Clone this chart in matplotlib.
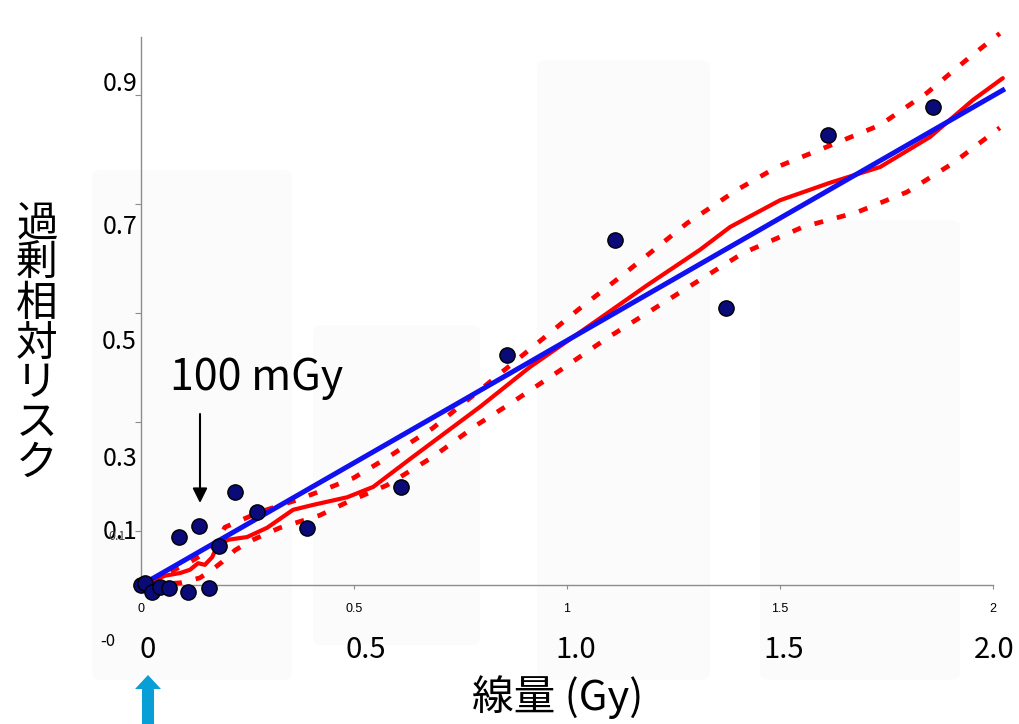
import matplotlib
matplotlib.use('Agg')
import matplotlib.pyplot as plt
from matplotlib.patches import Polygon, FancyBboxPatch

plt.rcParams['font.family'] = ['Noto Sans CJK JP', 'DejaVu Sans']

# observed points (dose in Gy, excess relative risk)
dose_pts = [0.0, 0.01, 0.026, 0.045, 0.066, 0.11, 0.16, 0.089, 0.136, 0.183,
            0.221, 0.272, 0.39, 0.61, 0.859, 1.113, 1.373, 1.613, 1.859]
err_pts = [0.0, 0.004, -0.013, -0.004, -0.006, -0.013, -0.006, 0.088, 0.108, 0.072,
           0.171, 0.134, 0.105, 0.180, 0.422, 0.633, 0.508, 0.826, 0.877]

# linear fit
lin_dose = [0.021, 2.023]
lin_err = [0.009, 0.908]

# smoothed fit
fit_dose = [0.021, 0.056, 0.092, 0.115, 0.134, 0.150, 0.167, 0.178, 0.204, 0.249,
            0.296, 0.357, 0.404, 0.484, 0.545, 0.638, 0.796, 0.913, 1.031, 1.188,
            1.312, 1.383, 1.500, 1.617, 1.735, 1.852, 1.953, 2.023]
fit_err = [0.006, 0.017, 0.022, 0.028, 0.040, 0.037, 0.051, 0.070, 0.083, 0.088,
           0.105, 0.138, 0.147, 0.161, 0.180, 0.235, 0.327, 0.400, 0.464, 0.550,
           0.615, 0.657, 0.706, 0.738, 0.767, 0.822, 0.890, 0.930]

# confidence band
upper_dose = [0.021, 0.068, 0.115, 0.150, 0.174, 0.197, 0.279, 0.366, 0.427, 0.498,
              0.577, 0.685, 0.796, 0.920, 1.026, 1.131, 1.282, 1.399, 1.493, 1.610,
              1.735, 1.845, 1.946, 2.016]
upper_err = [0.006, 0.024, 0.042, 0.059, 0.073, 0.106, 0.134, 0.156, 0.174, 0.196,
             0.233, 0.288, 0.358, 0.437, 0.505, 0.569, 0.664, 0.725, 0.767, 0.804,
             0.844, 0.903, 0.969, 1.012]
lower_dose = [0.021, 0.092, 0.138, 0.167, 0.190, 0.221, 0.263, 0.326, 0.420, 0.484,
              0.577, 0.685, 0.789, 0.873, 0.984, 1.094, 1.188, 1.300, 1.413, 1.554,
              1.681, 1.798, 1.906, 2.016]
lower_err = [0.0, 0.004, 0.013, 0.028, 0.042, 0.064, 0.083, 0.105, 0.128, 0.152,
             0.183, 0.235, 0.294, 0.336, 0.394, 0.453, 0.499, 0.554, 0.609, 0.657,
             0.684, 0.721, 0.774, 0.839]

x_ticks = [0, 0.5, 1, 1.5, 2]
x_tick_labels = ['0', '0.5', '1', '1.5', '2']
y_ticks = [0.1, 0.3, 0.5, 0.7, 0.9]
big_x_labels = ['0', '0.5', '1.0', '1.5', '2.0']
y_labels = ['0.9', '0.7', '0.5', '0.3', '0.1']

W, H = 1019, 724
fig = plt.figure(figsize=(W / 100, H / 100), dpi=100)


def fx(x):
    return x / W


def fy(y):
    return 1 - y / H


# faint slide boxes in the background
for x0, y0, x1, y1 in [(92, 170, 292, 680), (313, 325, 480, 645), (537, 60, 710, 680), (760, 220, 960, 680)]:
    fig.patches.append(FancyBboxPatch((fx(x0), fy(y1)), fx(x1 - x0), (y1 - y0) / H,
                                      boxstyle='round,pad=0,rounding_size=0.01',
                                      transform=fig.transFigure, facecolor='#fbfbfb',
                                      edgecolor='none', zorder=-5))

ax = fig.add_axes([141 / W, 0.11671, (993 - 141) / W, 0.83177])
ax.set_zorder(2)
ax.set_facecolor('none')
ax.set_xlim(0, 2)
ax.set_ylim(-0.1, 1.005)

ax.plot(upper_dose, upper_err, color='red', lw=3.4, dashes=(1.9, 3.0), clip_on=False, zorder=3)
ax.plot(lower_dose, lower_err, color='red', lw=3.4, dashes=(1.9, 3.0), clip_on=False, zorder=3)
ax.plot(fit_dose, fit_err, color='red', lw=3.0, solid_joinstyle='round',
        solid_capstyle='round', clip_on=False, zorder=4)
ax.plot(lin_dose, lin_err, color='#1010f0', lw=3.6, clip_on=False, zorder=5)
ax.plot(dose_pts, err_pts, 'o', color='#0a0a78', markeredgecolor='black',
        markeredgewidth=1.0, markersize=11, clip_on=False, zorder=6)

for s in ['top', 'right']:
    ax.spines[s].set_visible(False)
ax.spines['bottom'].set_position(('data', 0))
ax.spines['left'].set_bounds(0, 1.005)
for s in ['left', 'bottom']:
    ax.spines[s].set_color('#8c8c8c')
    ax.spines[s].set_linewidth(1.0)

ax.set_xticks(x_ticks)
ax.set_xticklabels(x_tick_labels, fontsize=9, family='Liberation Sans')
ax.tick_params(axis='x', length=3, color='#8c8c8c', pad=10)
ax.set_yticks(y_ticks)
ax.set_yticklabels([])
ax.tick_params(axis='y', length=4, color='#8c8c8c')

# slide overlay labels
for lab, px in zip(big_x_labels, [148, 366, 576, 784, 994]):
    fig.text(fx(px), fy(650), lab, fontsize=21, ha='center', va='center', zorder=3)
for lab, py in zip(y_labels, [84, 227, 342, 459, 532]):
    fig.text(fx(137), fy(py), lab, fontsize=18, ha='right', va='center', zorder=3)
fig.text(fx(117), fy(536), '0.1', fontsize=9, ha='center', va='center', color='#444444', zorder=3)
fig.text(fx(108), fy(641), '-0', fontsize=12, ha='center', va='center', zorder=3)

fig.text(fx(558), fy(697), '線量 (Gy)', fontsize=30, ha='center', va='center', zorder=3)
fig.text(fx(37), fy(344), '\n'.join('過剰相対リスク'), fontsize=30, ha='center',
         va='center', linespacing=0.96, zorder=3)

fig.text(fx(257), fy(378), '100 mGy', fontsize=31, ha='center', va='center', zorder=3)
ax.annotate('', xy=(fx(200), fy(503)), xytext=(fx(200), fy(414)),
            xycoords='figure fraction', textcoords='figure fraction',
            arrowprops=dict(arrowstyle='-|>', color='black', lw=1.5,
                            mutation_scale=22, shrinkA=0, shrinkB=0))

# blue arrow under the zero
arrow_px = [(148, 675), (135, 689), (142, 689), (142, 724), (154, 724), (154, 689), (161, 689)]
fig.patches.append(Polygon([(fx(x), fy(y)) for x, y in arrow_px], closed=True,
                           transform=fig.transFigure, facecolor='#079fd6',
                           edgecolor='none', zorder=3))

fig.savefig('out.png', dpi=100)
